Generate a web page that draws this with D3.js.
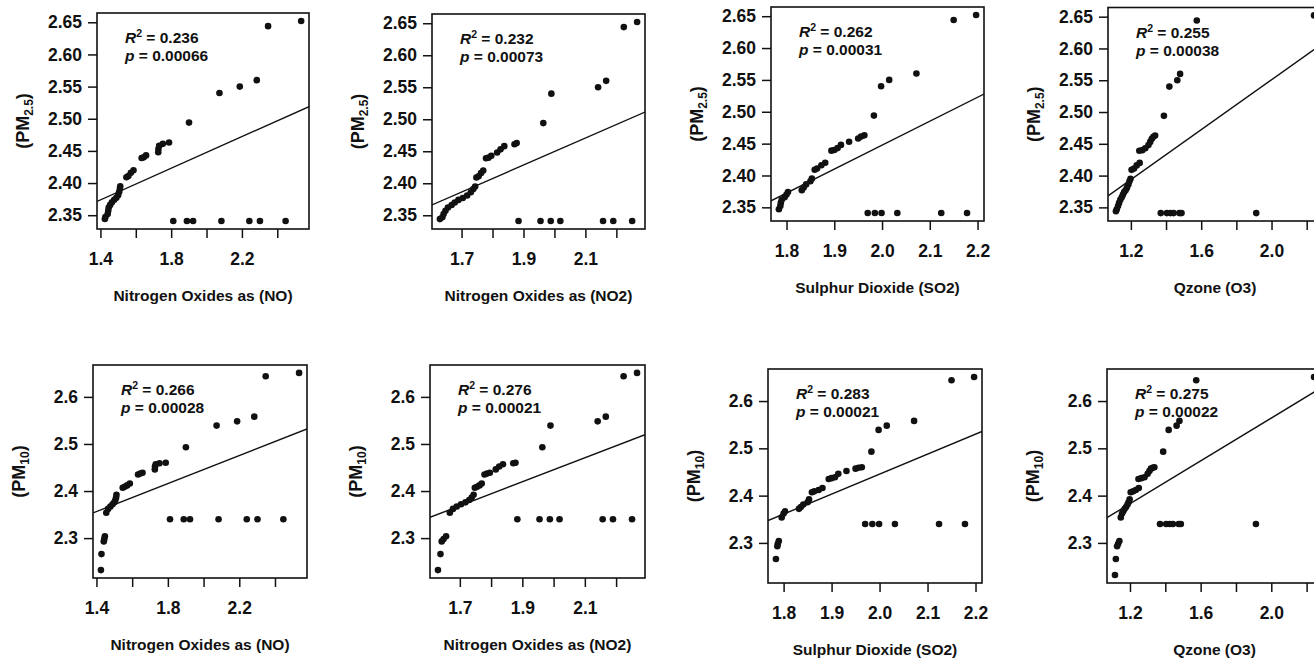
<!DOCTYPE html>
<html>
<head>
<meta charset="utf-8">
<script src="https://cdn.jsdelivr.net/npm/d3@7"></script>
<style>
	body { margin: 0; background: #fff; }
	svg text { font-family: "Liberation Sans", Arial, sans-serif; fill: #111; }
</style>
</head>
<body>
<div id="chart-area"></div>
<script>
// particulate matter (log values), one entry per observation, same order in every array
var pm25 = [2.652, 2.644, 2.560, 2.550, 2.540, 2.494, 2.463, 2.461, 2.458, 2.453, 2.448, 2.443, 2.440, 2.439,
	2.420, 2.416, 2.411, 2.409, 2.395, 2.391, 2.386, 2.381, 2.377, 2.374, 2.370, 2.366, 2.362, 2.357, 2.352,
	2.347, 2.344, 2.341, 2.341, 2.341, 2.341, 2.341, 2.341, 2.341];
var pm10 = [2.651, 2.644, 2.558, 2.548, 2.539, 2.493, 2.460, 2.459, 2.457, 2.452, 2.446, 2.439, 2.437, 2.435,
	2.416, 2.412, 2.409, 2.407, 2.392, 2.386, 2.381, 2.376, 2.372, 2.367, 2.362, 2.354, 2.304, 2.298, 2.293,
	2.266, 2.232, 2.340, 2.340, 2.340, 2.340, 2.340, 2.340, 2.340];

// gases (log values), null = missing
var no = [2.535, 2.348, 2.284, 2.188, 2.073, 1.901, 1.788, 1.753, 1.732, 1.728, 1.727, 1.658, 1.645, 1.633,
	1.587, 1.572, 1.558, 1.547, 1.512, 1.510, 1.506, 1.500, 1.490, 1.478, 1.465, 1.455, 1.447, 1.444, 1.441,
	1.428, 1.425, 1.812, 1.889, 1.924, 2.084, 2.242, 2.302, 2.447];
var no2 = [2.267, 2.224, 2.167, 2.141, 1.990, 1.964, 1.878, 1.871, 1.838, 1.826, 1.815, 1.796, 1.787, 1.779,
	1.770, 1.763, 1.755, 1.748, 1.744, 1.738, 1.730, 1.718, 1.704, 1.690, 1.678, 1.668, 1.656, 1.648, 1.642,
	1.638, 1.630, 1.884, 1.955, 1.988, 2.019, 2.157, 2.190, 2.251];
var so2 = [2.197, 2.150, 2.072, 2.015, 1.998, 1.983, 1.963, 1.956, 1.950, 1.931, 1.914, 1.907, 1.900, 1.894,
	1.881, 1.873, 1.864, 1.859, 1.853, 1.850, 1.841, 1.836, 1.832, 1.803, 1.800, 1.796, 1.790, 1.788, 1.787,
	1.784, null, 1.970, 1.985, 1.999, null, 2.032, 2.124, 2.178];
var o3 = [2.242, 1.575, 1.480, 1.464, 1.419, 1.388, 1.338, 1.328, 1.319, 1.310, 1.300, 1.282, 1.265, 1.248,
	1.250, 1.233, 1.218, 1.204, 1.198, 1.192, 1.186, 1.178, 1.170, 1.162, 1.155, 1.148, 1.140, 1.133, 1.127,
	1.120, 1.115, 1.370, 1.405, 1.425, 1.443, 1.476, 1.488, 1.913];

var xTitles = ["Nitrogen Oxides as (NO)", "Nitrogen Oxides as (NO2)", "Sulphur Dioxide (SO2)", "Qzone (O3)"];
var xTicks = [[1.4, 1.6, 1.8, 2.0, 2.2, 2.4], [1.7, 1.8, 1.9, 2.0, 2.1, 2.2], [1.8, 1.9, 2.0, 2.1, 2.2], [1.2, 1.4, 1.6, 1.8, 2.0, 2.2]];
var xTickLabels = [["1.4", "", "1.8", "", "2.2", ""], ["1.7", "", "1.9", "", "2.1", ""], ["1.8", "1.9", "2.0", "2.1", "2.2"], ["1.2", "", "1.6", "", "2.0", ""]];
var yTicks25 = [2.35, 2.40, 2.45, 2.50, 2.55, 2.60, 2.65];
var yTicks10 = [2.3, 2.4, 2.5, 2.6];

// fitted lines and stats, panels left to right, top row first
var fitIntercept = [2.2016, 2.0276, 1.6964, 2.158, 2.1477, 1.9343, 1.6004, 2.1112];
var fitSlope = [0.123, 0.211, 0.3756, 0.1964, 0.149, 0.2554, 0.4225, 0.2264];
var r2 = ["0.236", "0.232", "0.262", "0.255", "0.266", "0.276", "0.283", "0.275"];
var pval = ["0.00066", "0.00073", "0.00031", "0.00038", "0.00028", "0.00021", "0.00021", "0.00022"];

const svgWidth = 1314;
const svgHeight = 658;

// plot boxes (left, top, right, bottom)
var boxes = [
	{l: 97, t: 13, r: 309, b: 229}, {l: 432, t: 14, r: 645, b: 229},
	{l: 771, t: 7, r: 984, b: 221}, {l: 1108, t: 7.5, r: 1322, b: 221},
	{l: 93, t: 365, r: 307, b: 578}, {l: 430, t: 365, r: 645, b: 578},
	{l: 768, t: 369, r: 982, b: 583}, {l: 1107, t: 369, r: 1322, b: 583}
];

var gases = [no, no2, so2, o3];

var canvas = d3.select("#chart-area").append("svg")
	.attr("width", svgWidth)
	.attr("height", svgHeight);

// R style range: data extent padded 4% each side
function padded(values) {
	var ext = d3.extent(values);
	var pad = (ext[1] - ext[0]) * 0.04;
	return [ext[0] - pad, ext[1] + pad];
}

boxes.forEach((box, i) => {
	var row = i < 4 ? 0 : 1;
	var col = i % 4;
	var xs = gases[col];
	var ys = row == 0 ? pm25 : pm10;

	var points = xs.map((x, j) => ({x: x, y: ys[j]})).filter(d => d.x !== null);

	var xScale = d3.scaleLinear()
		.domain(padded(points.map(d => d.x)))
		.range([box.l, box.r]);

	var yScale = d3.scaleLinear()
		.domain(padded(ys))
		.range([box.b, box.t]);

	var panel = canvas.append("g").attr("class", "panel");

	panel.append("clipPath")
		.attr("id", "clip" + i)
		.append("rect")
		.attr("x", box.l)
		.attr("y", box.t)
		.attr("width", box.r - box.l)
		.attr("height", box.b - box.t);

	var xAxis = d3.axisBottom(xScale)
		.tickValues(xTicks[col])
		.tickFormat((d, k) => xTickLabels[col][k])
		.tickSize(9)
		.tickPadding(15);

	var yTickValues = row == 0 ? yTicks25 : yTicks10;
	var yAxis = d3.axisLeft(yScale)
		.tickValues(yTickValues)
		.tickFormat(row == 0 ? d3.format(".2f") : d3.format(".1f"))
		.tickSize(9)
		.tickPadding(6);

	var xAxisGroup = panel.append("g")
		.attr("transform", "translate(0," + box.b + ")")
		.call(xAxis);

	var yAxisGroup = panel.append("g")
		.attr("transform", "translate(" + box.l + ",0)")
		.call(yAxis);

	[xAxisGroup, yAxisGroup].forEach(g => {
		g.select(".domain").remove();
		g.selectAll("line").attr("stroke", "#111").attr("stroke-width", 1.5);
		g.selectAll("text")
			.attr("fill", "#111")
			.style("font-size", "17.5px")
			.style("font-weight", "bold");
	});

	panel.append("rect")
		.attr("x", box.l)
		.attr("y", box.t)
		.attr("width", box.r - box.l)
		.attr("height", box.b - box.t)
		.attr("fill", "none")
		.attr("stroke", "#111")
		.attr("stroke-width", 1.6);

	var plot = panel.append("g").attr("clip-path", "url(#clip" + i + ")");

	var xd = xScale.domain();
	plot.append("line")
		.attr("x1", xScale(xd[0]))
		.attr("y1", yScale(fitIntercept[i] + fitSlope[i] * xd[0]))
		.attr("x2", xScale(xd[1]))
		.attr("y2", yScale(fitIntercept[i] + fitSlope[i] * xd[1]))
		.attr("stroke", "#111")
		.attr("stroke-width", 1.4);

	plot.selectAll("circle")
		.data(points)
		.enter()
		.append("circle")
		.attr("cx", d => xScale(d.x))
		.attr("cy", d => yScale(d.y))
		.attr("r", 3.3)
		.attr("fill", "#111");

	// R squared and p annotation
	var ann = panel.append("text")
		.attr("x", box.l + 28)
		.attr("y", box.t + 30)
		.style("font-size", "15.5px")
		.style("font-weight", "bold");
	ann.append("tspan").style("font-style", "italic").text("R");
	ann.append("tspan").attr("dy", -6).style("font-size", "10.5px").text("2");
	ann.append("tspan").attr("dy", 6).text(" = " + r2[i]);

	var ann2 = panel.append("text")
		.attr("x", box.l + 28)
		.attr("y", box.t + 48)
		.style("font-size", "15.5px")
		.style("font-weight", "bold");
	ann2.append("tspan").style("font-style", "italic").text("p");
	ann2.append("tspan").text(" = " + pval[i]);

	// axis titles
	panel.append("text")
		.attr("x", (box.l + box.r) / 2)
		.attr("y", box.b + 72)
		.attr("text-anchor", "middle")
		.style("font-size", "15.5px")
		.style("font-weight", "bold")
		.text(xTitles[col]);

	var yTitle = panel.append("text")
		.attr("transform", "translate(" + (box.l - 74) + "," + ((box.t + box.b) / 2) + ") rotate(-90)")
		.attr("text-anchor", "middle")
		.attr("dy", "0.35em")
		.style("font-size", "18px")
		.style("font-weight", "bold");
	yTitle.append("tspan").text("(PM");
	yTitle.append("tspan").attr("dy", 4).style("font-size", "12px").text(row == 0 ? "2.5" : "10");
	yTitle.append("tspan").attr("dy", -4).text(")");
});
</script>
</body>
</html>
